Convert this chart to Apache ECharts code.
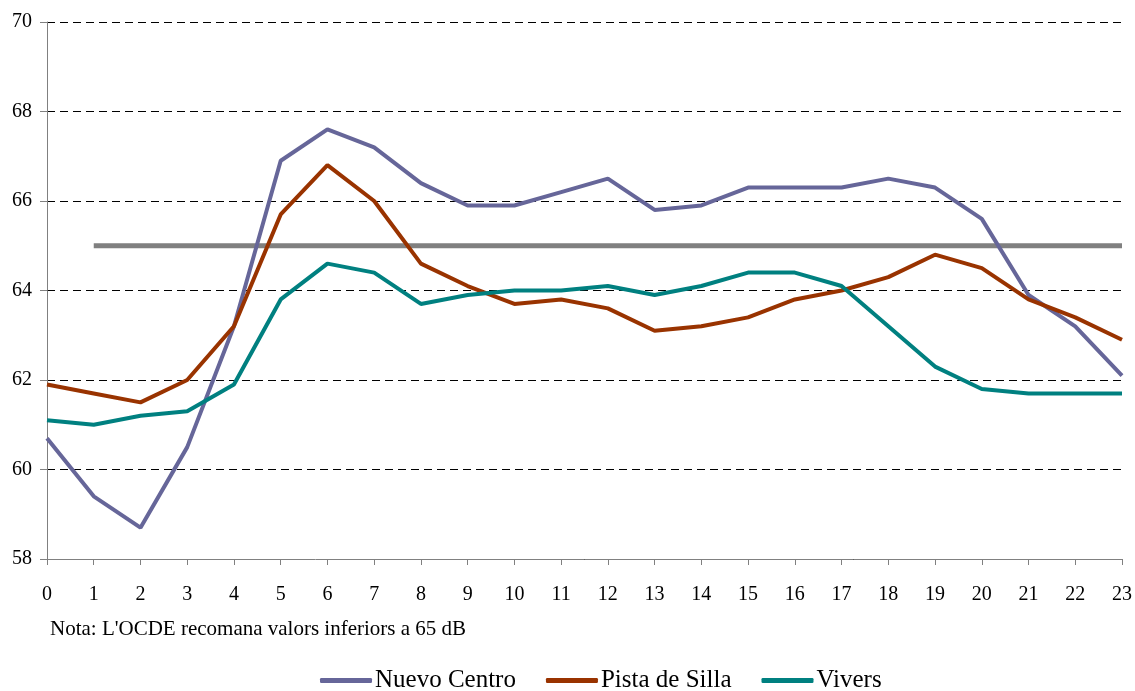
<!DOCTYPE html>
<html>
<head>
<meta charset="utf-8">
<script src="https://cdn.jsdelivr.net/npm/echarts@6/dist/echarts.min.js"></script>
<style>
  html, body { margin: 0; padding: 0; background: #fff; }
  #main { width: 1135px; height: 691px; }
</style>
</head>
<body>
<div id="main"></div>
<script>
// hores del dia
var hores = ['0','1','2','3','4','5','6','7','8','9','10','11','12','13','14','15','16','17','18','19','20','21','22','23'];

var nuevoCentro = [60.7, 59.4, 58.7, 60.5, 63.2, 66.9, 67.6, 67.2, 66.4, 65.9, 65.9, 66.2, 66.5, 65.8, 65.9, 66.3, 66.3, 66.3, 66.5, 66.3, 65.6, 63.9, 63.2, 62.1];
var pistaSilla = [61.9, 61.7, 61.5, 62.0, 63.2, 65.7, 66.8, 66.0, 64.6, 64.1, 63.7, 63.8, 63.6, 63.1, 63.2, 63.4, 63.8, 64.0, 64.3, 64.8, 64.5, 63.8, 63.4, 62.9];
var vivers = [61.1, 61.0, 61.2, 61.3, 61.9, 63.8, 64.6, 64.4, 63.7, 63.9, 64.0, 64.0, 64.1, 63.9, 64.1, 64.4, 64.4, 64.1, 63.2, 62.3, 61.8, 61.7, 61.7, 61.7];
// limit OCDE (no hi ha valor a l'hora 0)
var limitOCDE = [null, 65, 65, 65, 65, 65, 65, 65, 65, 65, 65, 65, 65, 65, 65, 65, 65, 65, 65, 65, 65, 65, 65, 65];

var font = '"Liberation Serif", "Times New Roman", serif';

var myChart = echarts.init(document.getElementById('main'));

function linia(nom, dades, color) {
  return {
    name: nom,
    type: 'line',
    data: dades,
    symbol: 'none',
    lineStyle: { color: color, width: 4 },
    itemStyle: { color: color },
    animation: false
  };
}

var option = {
  backgroundColor: '#fff',
  textStyle: { fontFamily: font },
  grid: { left: 47, right: 9, top: 22, bottom: 132 },
  legend: {
    left: 315,
    top: 663,
    itemWidth: 52,
    itemHeight: 5,
    itemGap: 30,
    icon: 'roundRect',
    textStyle: { fontFamily: font, fontSize: 25, color: '#000', padding: [0, 0, 0, -2] },
    data: ['Nuevo Centro', 'Pista de Silla', 'Vivers']
  },
  graphic: [{
    type: 'text',
    left: 50,
    top: 619,
    style: {
      text: "Nota: L'OCDE recomana valors inferiors a 65 dB",
      font: '21px ' + font,
      fill: '#000'
    }
  }],
  xAxis: {
    type: 'category',
    boundaryGap: false,
    data: hores,
    axisLine: { lineStyle: { color: '#808080', width: 1 } },
    axisTick: { alignWithLabel: true, length: 6, lineStyle: { color: '#808080' } },
    axisLabel: { color: '#000', fontSize: 20, fontFamily: font, margin: 26 },
    splitLine: { show: false }
  },
  yAxis: {
    type: 'value',
    min: 58,
    max: 70,
    interval: 2,
    axisLine: { show: true, lineStyle: { color: '#808080', width: 1 } },
    axisTick: { show: true, length: 7, lineStyle: { color: '#808080' } },
    axisLabel: { color: '#000', fontSize: 20, fontFamily: font, margin: 15 },
    splitLine: { lineStyle: { color: '#000', type: [8, 5], width: 1 } }
  },
  series: [
    {
      name: 'OCDE',
      type: 'line',
      data: limitOCDE,
      symbol: 'none',
      lineStyle: { color: '#808080', width: 5 },
      itemStyle: { color: '#808080' },
      animation: false,
      z: 1
    },
    linia('Nuevo Centro', nuevoCentro, '#666699'),
    linia('Pista de Silla', pistaSilla, '#993300'),
    linia('Vivers', vivers, '#008080')
  ]
};

myChart.setOption(option);
</script>
</body>
</html>
